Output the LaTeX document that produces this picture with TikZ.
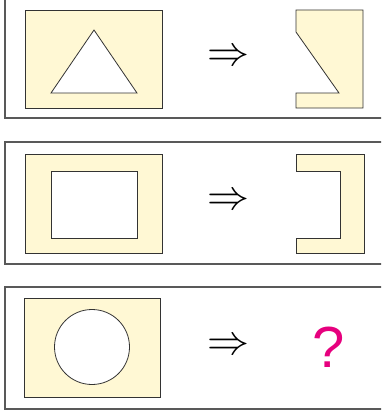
\RequirePackage{fix-cm}
\documentclass[tikz,border=0pt]{standalone}
\usepackage{fontspec}
\newfontfamily\qfont{Liberation Sans}
\definecolor{cream}{HTML}{FFF8D4}
\definecolor{pinkq}{HTML}{E6007E}
\begin{document}
\begin{tikzpicture}[x=1pt,y=-1pt,line width=0.8pt,
  panel/.style={draw=black!65,line width=1.3pt},
  card/.style={draw=black!80,fill=cream},
  hole/.style={draw=black!80,fill=white},
  implies/.style={inner sep=0pt,font=\fontsize{42}{42}\selectfont},
  qmark/.style={inner sep=0pt,text=pinkq,font=\qfont\fontsize{58}{58}\selectfont}]
  \clip (0,0) rectangle (381,412);
  % three frames
  \draw[panel] (5,-5) rectangle (395,118);
  \draw[panel] (5,142) rectangle (395,264);
  \draw[panel] (5,287) rectangle (395,409);
  % first row: triangle cut out
  \draw[card] (25,10) rectangle (162,108);
  \draw[hole] (94,30) -- (137,93) -- (51,93) -- cycle;
  \node[implies] (imp1) at (228,58) {$\Rightarrow$};
  \draw[card] (296,10) -- (363,10) -- (363,108) -- (296,108) -- (296,93)
    -- (339,93) -- (296,32) -- cycle;
  % second row: rectangle cut out
  \draw[card] (25,154) rectangle (162,253);
  \draw[hole] (51,171) rectangle (137,238);
  \node[implies] (imp2) at (228,202) {$\Rightarrow$};
  \draw[card] (296,154) -- (364,154) -- (364,253) -- (296,253) -- (296,238)
    -- (340,238) -- (340,171) -- (296,171) -- cycle;
  % third row: circle cut out
  \draw[card] (24,298) rectangle (160,397);
  \draw[hole] (92,347) circle (37.5);
  \node[implies] (imp3) at (228,347) {$\Rightarrow$};
  \node[qmark] (ask) at (329,347) {?};
\end{tikzpicture}
\end{document}
